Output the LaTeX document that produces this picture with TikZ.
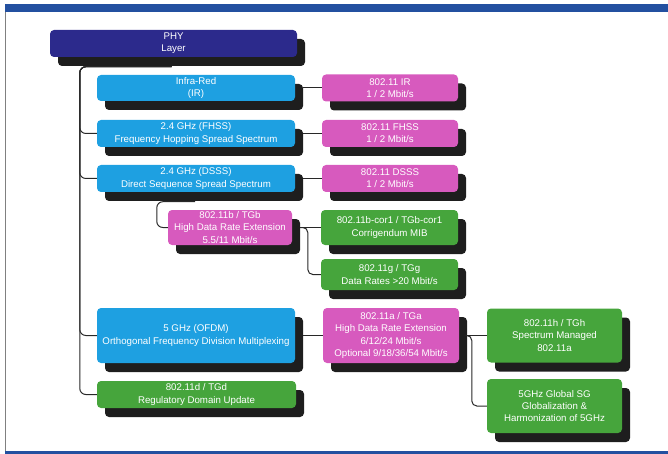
\documentclass[tikz,border=0pt]{standalone}
\usepackage{fontspec}
\setmainfont{Liberation Sans}
\usetikzlibrary{shadows}
\definecolor{navyc}{RGB}{44,42,140}
\definecolor{bluec}{RGB}{30,160,225}
\definecolor{pinkc}{RGB}{215,90,190}
\definecolor{greenc}{RGB}{70,165,60}
\definecolor{shadowc}{RGB}{30,30,30}
\definecolor{barc}{RGB}{35,80,160}
\definecolor{linec}{RGB}{40,40,40}
\tikzset{
  box/.style={rounded corners=4pt, text=white, align=center, inner sep=0pt,
    font=\fontsize{9.7}{12.3}\selectfont,
    drop shadow={shadow xshift=8pt, shadow yshift=-9pt, fill=shadowc, opacity=1}},
  navybox/.style={box, fill=navyc},
  bluebox/.style={box, fill=bluec},
  pinkbox/.style={box, fill=pinkc},
  greenbox/.style={box, fill=greenc},
  conn/.style={draw=linec, line width=1pt, rounded corners=6pt},
}
\begin{document}
\begin{tikzpicture}[x=1pt, y=-1pt]
\useasboundingbox (0,0) rectangle (668,454);
% frame
\fill[barc] (5,4) rectangle (668,12);
\fill[barc] (5,451) rectangle (668,454);
\draw[gray, line width=0.8pt] (5.5,12) -- (5.5,451);

% nodes
\node[navybox, minimum width=247pt, minimum height=27pt] (phy) at (173.5,43.5) {PHY\\Layer};

\node[bluebox, minimum width=198pt, minimum height=26pt] (ir) at (196,88) {Infra-Red\\(IR)};
\node[bluebox, minimum width=198pt, minimum height=27pt] (fhss) at (196,133.5) {2.4 GHz (FHSS)\\Frequency Hopping Spread Spectrum};
\node[bluebox, minimum width=198pt, minimum height=27pt] (dsss) at (196,178.5) {2.4 GHz (DSSS)\\Direct Sequence Spread Spectrum};
\node[bluebox, minimum width=198pt, minimum height=55pt] (ofdm) at (196,335.5) {5 GHz (OFDM)\\Orthogonal Frequency Division Multiplexing};
\node[greenbox, minimum width=199pt, minimum height=27pt] (d) at (196.5,394.5) {802.11d / TGd\\Regulatory Domain Update};

\node[pinkbox, minimum width=136pt, minimum height=27pt] (pir) at (390,88) {802.11 IR\\1 / 2 Mbit/s};
\node[pinkbox, minimum width=136pt, minimum height=27pt] (pfhss) at (390,133.5) {802.11 FHSS\\1 / 2 Mbit/s};
\node[pinkbox, minimum width=136pt, minimum height=27pt] (pdsss) at (390,178.5) {802.11 DSSS\\1 / 2 Mbit/s};

\node[pinkbox, minimum width=124pt, minimum height=35pt] (b) at (230,227.5) {802.11b / TGb\\High Data Rate Extension\\5.5/11 Mbit/s};
\node[greenbox, minimum width=137pt, minimum height=35pt] (cor) at (389.5,227.5) {802.11b-cor1 / TGb-cor1\\Corrigendum MIB};
\node[greenbox, minimum width=137pt, minimum height=31pt] (g) at (389.5,274.5) {802.11g / TGg\\Data Rates >20 Mbit/s};

\node[pinkbox, minimum width=136pt, minimum height=55pt] (a) at (391,335.5) {802.11a / TGa\\High Data Rate Extension\\6/12/24 Mbit/s\\Optional 9/18/36/54 Mbit/s};
\node[greenbox, minimum width=135pt, minimum height=54pt] (h) at (554.5,335.5) {802.11h / TGh\\Spectrum Managed\\802.11a};
\node[greenbox, minimum width=135pt, minimum height=54pt] (gl) at (554.5,406) {5GHz Global SG\\Globalization \&\\Harmonization of 5GHz};

% connectors from PHY
\coordinate (ps) at ([xshift=-2pt, yshift=-9.5pt]phy.south);
\draw[conn] (ps) -| ([xshift=-17pt]fhss.west) -- (fhss.west);
\draw[conn] (ps) -| ([xshift=-17pt]dsss.west) -- (dsss.west);
\draw[conn] (ps) -| ([xshift=-17pt]ofdm.west) -- (ofdm.west);
\draw[conn] (ps) -| ([xshift=-17pt]d.west) -- (d.west);

% blue to pink
\draw[conn] ([xshift=8pt]ir.east) -- (pir.west);
\draw[conn] ([xshift=8pt]fhss.east) -- (pfhss.west);
\draw[conn] ([xshift=8pt]dsss.east) -- (pdsss.west);
\draw[conn] ([xshift=8pt]ofdm.east) -- (a.west);

% DSSS to 802.11b
\draw[conn] ([xshift=-1pt, yshift=-9.5pt]dsss.south) -| ([xshift=-11pt]b.west) -- (b.west);

% 802.11b to children
\draw[conn] ([xshift=8pt]b.east) -- (cor.west);
\draw[conn, rounded corners=5pt] ([xshift=8pt]b.east) -| ([xshift=-13pt]g.west) -- (g.west);

% 802.11a to children
\draw[conn] ([xshift=8pt]a.east) -- (h.west);
\draw[conn, rounded corners=5pt] ([xshift=8pt]a.east) -| ([xshift=-15pt]gl.west) -- (gl.west);
\end{tikzpicture}
\end{document}
